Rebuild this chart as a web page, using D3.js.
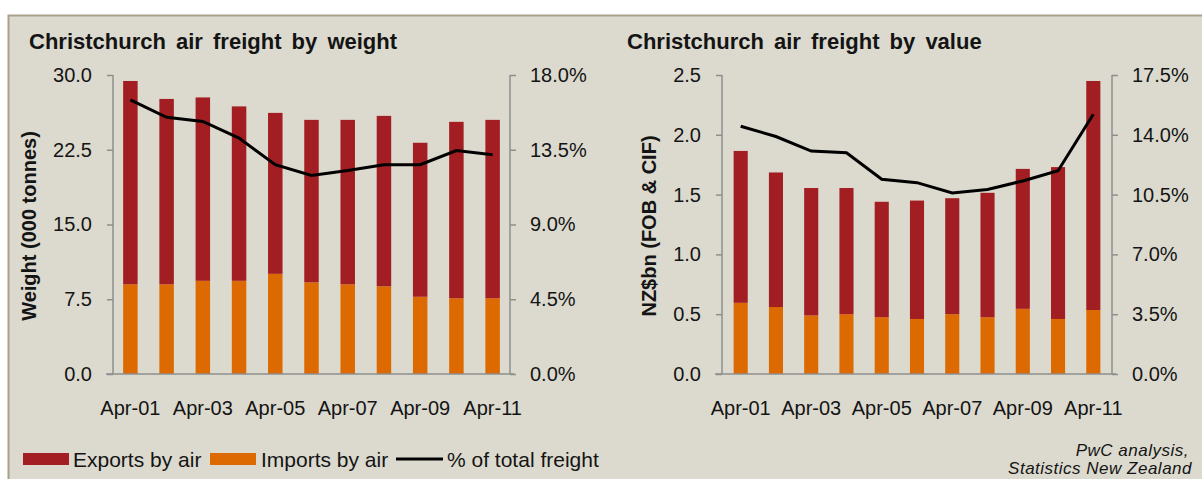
<!DOCTYPE html>
<html>
<head>
<meta charset="utf-8">
<script src="https://cdnjs.cloudflare.com/ajax/libs/d3/7.8.5/d3.min.js"></script>
<style>
  body { margin: 0; background: #fff; }
  svg { display: block; font-family: Arial, "Liberation Sans", sans-serif; }
</style>
</head>
<body>
<div id="chart"></div>
<script>
// data
const months = ["Apr-01","Apr-02","Apr-03","Apr-04","Apr-05","Apr-06","Apr-07","Apr-08","Apr-09","Apr-10","Apr-11"];

const weightExports = [20.4, 18.6, 18.4, 17.5, 16.15, 16.3, 16.5, 17.1, 15.45, 17.7, 17.9];
const weightImports = [9.0, 9.0, 9.35, 9.35, 10.05, 9.2, 9.0, 8.8, 7.75, 7.6, 7.6];
const weightShare = [16.5, 15.45, 15.2, 14.2, 12.6, 11.95, 12.25, 12.6, 12.6, 13.45, 13.2];

const valueExports = [1.27, 1.125, 1.065, 1.055, 0.965, 0.99, 0.97, 1.04, 1.17, 1.27, 1.915];
const valueImports = [0.595, 0.56, 0.49, 0.50, 0.475, 0.46, 0.50, 0.475, 0.545, 0.46, 0.535];
const valueShare = [14.5, 13.9, 13.05, 12.95, 11.4, 11.2, 10.6, 10.8, 11.3, 11.9, 15.2];

const weightTicks = [0, 7.5, 15, 22.5, 30];
const weightPctTicks = [0, 4.5, 9, 13.5, 18];
const valueTicks = [0, 0.5, 1, 1.5, 2, 2.5];
const valuePctTicks = [0, 3.5, 7, 10.5, 14, 17.5];

const exportColor = "#a21e22";
const importColor = "#dc6a00";
const axisColor = "#8e8e8e";
const textColor = "#141414";

const svg = d3.select("#chart").append("svg")
  .attr("width", 1202)
  .attr("height", 479);

//Background panel
svg.append("rect")
  .attr("x", 8.5).attr("y", 15.5)
  .attr("width", 1210).attr("height", 480)
  .attr("fill", "#dcdacf")
  .attr("stroke", "#a9a08c")
  .attr("stroke-width", 2);

function drawChart(opt){
  const top = 75, bottom = 374;

  const x = d3.scaleBand()
    .domain(months)
    .range([opt.left, opt.right])
    .paddingInner(0.6)
    .paddingOuter(opt.outer);

  const y = d3.scaleLinear().domain([0, d3.max(opt.ticks)]).range([bottom, top]);
  const y2 = d3.scaleLinear().domain([0, d3.max(opt.pctTicks)]).range([bottom, top]);

  const g = svg.append("g");

  //Title
  g.append("text")
    .attr("x", opt.titleX).attr("y", 49)
    .attr("font-size", 22).attr("font-weight", "bold")
    .attr("word-spacing", 4)
    .attr("fill", textColor)
    .text(opt.title);

  //Axis title
  g.append("text")
    .attr("transform", `translate(${opt.labelX},226) rotate(-90)`)
    .attr("text-anchor", "middle")
    .attr("font-size", 20).attr("font-weight", "bold")
    .attr("fill", textColor)
    .text(opt.yLabel);

  //Stacked bars
  const rows = months.map((m, i) => ({month: m, imports: opt.imports[i], exports: opt.exports[i]}));
  const stack = d3.stack().keys(["imports", "exports"])(rows);
  const colors = {imports: importColor, exports: exportColor};

  g.selectAll("g.layer")
    .data(stack)
    .enter().append("g")
    .attr("class", "layer")
    .attr("fill", d => colors[d.key])
    .selectAll("rect")
    .data(d => d)
    .enter().append("rect")
    .attr("x", d => x(d.data.month))
    .attr("width", x.bandwidth())
    .attr("y", d => y(d[1]))
    .attr("height", d => y(d[0]) - y(d[1]));

  //Axes
  const leftAxis = g.append("g")
    .attr("transform", `translate(${opt.left},0)`)
    .call(d3.axisLeft(y).tickValues(opt.ticks).tickFormat(d3.format(opt.fmt)).tickSize(6).tickPadding(15));

  const rightAxis = g.append("g")
    .attr("transform", `translate(${opt.right},0)`)
    .call(d3.axisRight(y2).tickValues(opt.pctTicks).tickFormat(d => d3.format(".1f")(d) + "%").tickSize(6).tickPadding(14));

  const bottomAxis = g.append("g")
    .attr("transform", `translate(0,${bottom})`)
    .call(d3.axisBottom(x).tickValues(months.filter((m, i) => i % 2 === 0)).tickSize(0).tickPadding(27));

  [leftAxis, rightAxis, bottomAxis].forEach(a => {
    a.select(".domain").attr("stroke", axisColor).attr("stroke-width", 1.5);
    a.selectAll(".tick line").attr("stroke", axisColor).attr("stroke-width", 1.5);
    a.selectAll("text").attr("font-size", 20).attr("fill", textColor).attr("font-family", "Arial, 'Liberation Sans', sans-serif");
  });
  leftAxis.select(".domain").attr("d", `M0,${top}V${bottom}`);
  rightAxis.select(".domain").attr("d", `M0,${top}V${bottom}`);
  bottomAxis.select(".domain").attr("d", `M${opt.left - 7},0H${opt.right + 4}`);

  //Share line
  const line = d3.line()
    .x((d, i) => x(months[i]) + x.bandwidth() / 2)
    .y(d => y2(d));

  g.append("path")
    .datum(opt.share)
    .attr("d", line)
    .attr("fill", "none")
    .attr("stroke", "#000")
    .attr("stroke-width", 3);
}

drawChart({
  left: 113, right: 510, outer: 0.28,
  titleX: 29, title: "Christchurch air freight by weight",
  labelX: 36, yLabel: "Weight (000 tonnes)",
  exports: weightExports, imports: weightImports, share: weightShare,
  ticks: weightTicks, pctTicks: weightPctTicks, fmt: ".1f"
});

drawChart({
  left: 722, right: 1112, outer: 0.33,
  titleX: 627, title: "Christchurch air freight by value",
  labelX: 656, yLabel: "NZ$bn (FOB & CIF)",
  exports: valueExports, imports: valueImports, share: valueShare,
  ticks: valueTicks, pctTicks: valuePctTicks, fmt: ".1f"
});

//Legend
const legendItems = [
  {label: "Exports by air", type: "rect", color: exportColor, x: 23, tx: 73},
  {label: "Imports by air", type: "rect", color: importColor, x: 210, tx: 261},
  {label: "% of total freight", type: "line", color: "#000", x: 396, tx: 447}
];

const legend = svg.append("g").selectAll("g")
  .data(legendItems)
  .enter().append("g");

legend.filter(d => d.type === "rect").append("rect")
  .attr("x", d => d.x).attr("y", 453)
  .attr("width", 46).attr("height", 12)
  .attr("fill", d => d.color);

legend.filter(d => d.type === "line").append("line")
  .attr("x1", d => d.x).attr("x2", d => d.x + 47)
  .attr("y1", 459).attr("y2", 459)
  .attr("stroke", d => d.color).attr("stroke-width", 3);

legend.append("text")
  .attr("x", d => d.tx).attr("y", 467)
  .attr("font-size", 21)
  .attr("fill", textColor)
  .text(d => d.label);

//Source note
svg.append("text")
  .attr("x", 1189).attr("y", 455.5)
  .attr("text-anchor", "end")
  .attr("font-size", 17).attr("font-style", "italic")
  .attr("letter-spacing", 0.5)
  .attr("fill", textColor)
  .text("PwC analysis,");

svg.append("text")
  .attr("x", 1192).attr("y", 474)
  .attr("text-anchor", "end")
  .attr("font-size", 17).attr("font-style", "italic")
  .attr("letter-spacing", 0.5)
  .attr("fill", textColor)
  .text("Statistics New Zealand");
</script>
</body>
</html>
